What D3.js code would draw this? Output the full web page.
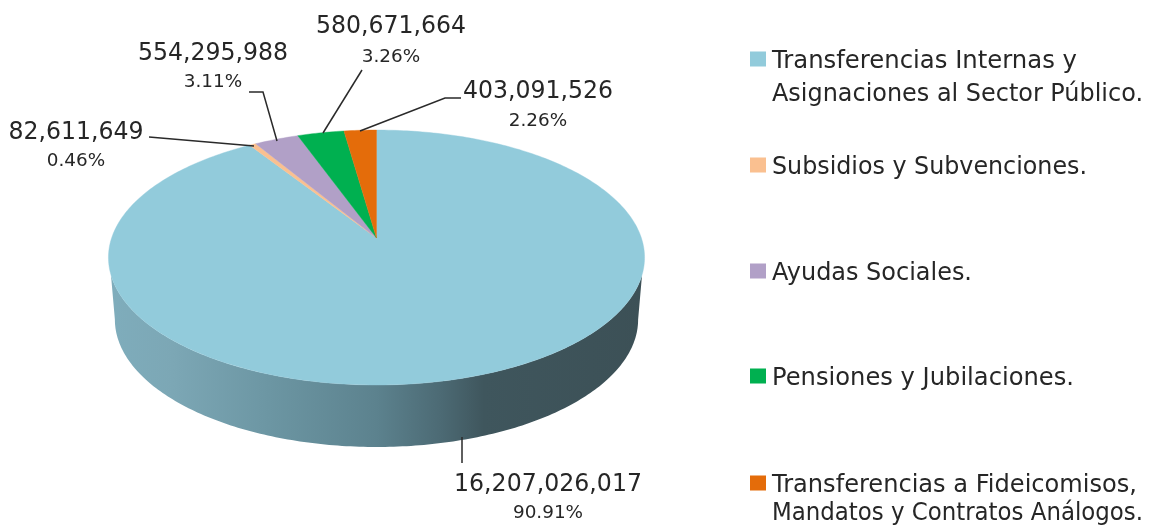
<!DOCTYPE html>
<html><head><meta charset="utf-8">
<script src="https://cdn.jsdelivr.net/npm/d3@7"></script>
<style>html,body{margin:0;padding:0;background:#fff}svg{display:block;filter:blur(0.45px)}</style>
</head><body><svg id="c" width="1164" height="529"></svg>
<script>
const categories=["Transferencias Internas y|Asignaciones al Sector Público.","Subsidios y Subvenciones.","Ayudas Sociales.","Pensiones y Jubilaciones.","Transferencias a Fideicomisos,|Mandatos y Contratos Análogos."];
const values=[16207026017,82611649,554295988,580671664,403091526];
const percents=["90.91%","0.46%","3.11%","3.26%","2.26%"];
const colors=["#92CBDB","#FAC090","#B1A0C7","#00B050","#E46C0A"];

const svg=d3.select("#c"),FONT="'DejaVu Sans',sans-serif",INK="#262626";
const x0=376.5,y0=238,k=0.153,a=264.9,b=124.5,depth=62,shrink=0.976;
// perspective projection of a unit disc
const proj=(th,r=1)=>{const u=r*Math.sin(th),v=r*Math.cos(th),w=1+k*v;return [x0+a*u/w,y0-b*v/w];};
const line=d3.line();
const pie=d3.pie().sort(null).value(d=>d).startAngle(0).endAngle(2*Math.PI)(values);

const defs=svg.append("defs");
const grad=defs.append("linearGradient").attr("id","wall").attr("gradientUnits","userSpaceOnUse").attr("x1",108).attr("x2",645).attr("y1",0).attr("y2",0);
[[0,"#7FADBC"],[.12,"#7CA7B5"],[.3,"#6C96A3"],[.5,"#5C828E"],[.62,"#4C6A74"],[.7,"#3F565D"],[1,"#3C5056"]].forEach(s=>grad.append("stop").attr("offset",s[0]).attr("stop-color",s[1]));

// side wall, front part only
const arcFrom=Math.acos(-0.284),botFrom=Math.acos(-k);
const sweep=(t0)=>d3.range(0,201).map(i=>t0+(2*Math.PI-2*t0)*i/200);
const topEdge=sweep(arcFrom).map(t=>proj(t));
const botEdge=sweep(botFrom).reverse().map(t=>{const p=proj(t);return [x0+(p[0]-x0)*shrink,p[1]+depth];});
svg.append("path").attr("d",line(topEdge.concat(botEdge))+"Z").attr("fill","url(#wall)");

// top face
pie.forEach((s,i)=>{
  const n=Math.max(4,Math.ceil((s.endAngle-s.startAngle)*60));
  const pts=[[x0,y0]].concat(d3.range(n+1).map(j=>proj(s.startAngle+(s.endAngle-s.startAngle)*j/n)));
  svg.append("path").attr("d",line(pts)+"Z").attr("fill",colors[i]).attr("stroke",colors[i]).attr("stroke-width",0.4);
});

// labels
const fmt=d3.format(",");
const labelPos=[[548,482,511],[76,130,159],[213,51,80],[391,24,55],[538,89,119]];
const labelW=[188,135,150,150,150];
const leaders=[[[462,437],[462,463]],[[149,137],[254,146]],[[249,92],[263,92],[277,141]],[[362,70],[323,133]],[[461,98],[445,98],[360,131]]];
leaders.forEach(l=>svg.append("path").attr("d",line(l)).attr("fill","none").attr("stroke","#2a2a2a").attr("stroke-width",1.5));
values.forEach((v,i)=>{
  const p=labelPos[i];
  svg.append("text").attr("x",p[0]).attr("y",p[1]).attr("dy","0.36em").attr("text-anchor","middle").attr("font-family",FONT).attr("font-size",25.5).attr("textLength",labelW[i]).attr("lengthAdjust","spacingAndGlyphs").attr("fill",INK).text(fmt(v));
  svg.append("text").attr("x",p[0]).attr("y",p[2]).attr("dy","0.36em").attr("text-anchor","middle").attr("font-family",FONT).attr("font-size",18.4).attr("fill",INK).text(percents[i]);
});

// legend
const legendY=[59,165,271,376,483];
const lineGap=[33,0,0,0,28.5];
const lineWidths=[[305,371],[315],[200],[302],[365,371]];
categories.forEach((c,i)=>{
  const g=svg.append("g");
  g.append("rect").attr("x",750).attr("y",legendY[i]-7.5).attr("width",16).attr("height",15).attr("fill",colors[i]);
  c.split("|").forEach((t,j)=>g.append("text").attr("x",772).attr("y",legendY[i]+j*lineGap[i]).attr("dy","0.36em").attr("font-family",FONT).attr("font-size",24).attr("textLength",lineWidths[i][j]).attr("lengthAdjust","spacingAndGlyphs").attr("fill",INK).text(t));
});
</script></body></html>
